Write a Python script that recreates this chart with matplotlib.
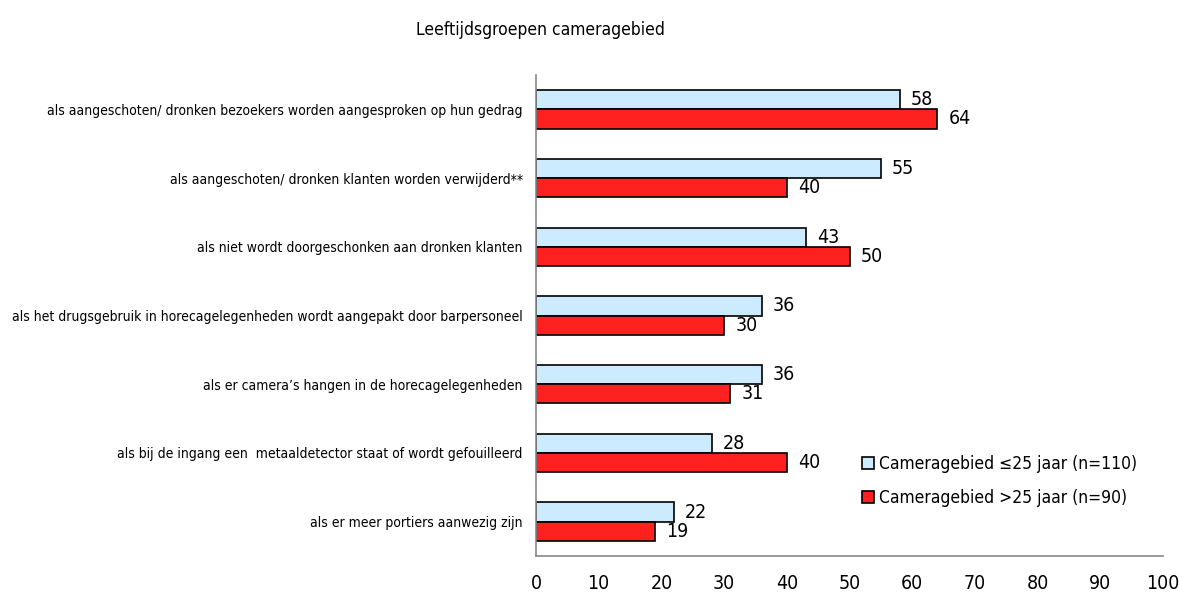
import matplotlib
matplotlib.use("Agg")
import matplotlib.pyplot as plt
import numpy as np

categories = [
    "als aangeschoten/ dronken bezoekers worden aangesproken op hun gedrag",
    "als aangeschoten/ dronken klanten worden verwijderd**",
    "als niet wordt doorgeschonken aan dronken klanten",
    "als het drugsgebruik in horecagelegenheden wordt aangepakt door barpersoneel",
    "als er camera\u2019s hangen in de horecagelegenheden",
    "als bij de ingang een  metaaldetector staat of wordt gefouilleerd",
    "als er meer portiers aanwezig zijn",
]
young = [58, 55, 43, 36, 36, 28, 22]
old = [64, 40, 50, 30, 31, 40, 19]
series_labels = ["Cameragebied \u226425 jaar (n=110)", "Cameragebied >25 jaar (n=90)"]
xticks = [0, 10, 20, 30, 40, 50, 60, 70, 80, 90, 100]
title = "Leeftijdsgroepen cameragebied"

plt.rcParams['font.family'] = ['DejaVu Sans']
plt.rcParams['font.stretch'] = 'condensed'

fig = plt.figure(figsize=(11.79, 5.97), dpi=100)
ax = fig.add_axes([536/1179, 41/597, (1163-536)/1179, (556-75)/597])

y = np.arange(len(categories))
h = 0.28
c_young = "#CCEBFF"
c_old = "#FF2020"
ax.barh(y - h/2, young, height=h, color=c_young, edgecolor="black", linewidth=1.2, label=series_labels[0])
ax.barh(y + h/2, old, height=h, color=c_old, edgecolor="black", linewidth=1.2, label=series_labels[1])

for yi, v in zip(y, young):
    ax.annotate(str(v), (v, yi - h/2), xytext=(8, 0), textcoords="offset points",
                va="center", ha="left", fontsize=14)
for yi, v in zip(y, old):
    ax.annotate(str(v), (v, yi + h/2), xytext=(8, 0), textcoords="offset points",
                va="center", ha="left", fontsize=14)

ax.set_ylim(len(categories) - 0.5, -0.5)
ax.set_xlim(0, 100)
ax.set_yticks(y)
ax.set_yticklabels(categories, fontsize=10)
ax.set_xticks(xticks)
ax.set_xticklabels([str(t) for t in xticks], fontsize=14)
ax.tick_params(axis="x", length=0, pad=13)
ax.tick_params(axis="y", length=0, pad=9.5)
for s in ["top", "right"]:
    ax.spines[s].set_visible(False)
for s in ["left", "bottom"]:
    ax.spines[s].set_color("#888888")
    ax.spines[s].set_linewidth(1.2)

fig.text(540/1179, 1 - 30/597, title, ha="center", va="center", fontsize=12.5)

ax.legend(loc="upper left", bbox_to_anchor=((855-536)/(1163-536), 1 - (448-75)/(556-75)),
          frameon=False, fontsize=12.5, handlelength=0.7, handleheight=0.7,
          handletextpad=0.3, labelspacing=0.95, borderaxespad=0)

fig.savefig("out.png", dpi=100)
